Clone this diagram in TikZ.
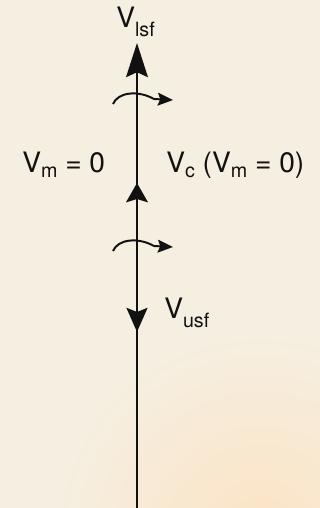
\documentclass[tikz,border=0pt]{standalone}
\usepackage{fontspec}
\setmainfont{TeX Gyre Heros}
\usetikzlibrary{arrows.meta}
\definecolor{Paper}{HTML}{F5EFE1}
\definecolor{PaperWarm}{HTML}{FCE3C4}
\definecolor{InkDark}{HTML}{111111}
\newcommand{\vsub}[2][4pt]{\raisebox{-#1}{\fontsize{14}{14}\selectfont #2}}

\begin{document}
\begin{tikzpicture}[
  x=0.025cm, y=-0.025cm,
  axis/.style={line width=2.1pt, draw=InkDark},
  spin/.style={line width=1.4pt, draw=InkDark, -{Stealth[length=3.8mm, width=3.2mm, inset=0.6mm]}},
  lab/.style={font=\fontsize{20}{24}\selectfont, text=InkDark, inner sep=0pt, anchor=base west},
]
% ---------------------------------------------------------------- background
\useasboundingbox (0,0) rectangle (320,508);
\fill[Paper] (0,0) rectangle (320,508);
\begin{scope}
  \clip (0,0) rectangle (320,508);
  \shade[inner color=PaperWarm, outer color=Paper] (260,540) circle (210);
\end{scope}
% ---------------------------------------------------------------- axis
\coordinate (bot) at (137,508);
\coordinate (top) at (137,43);
\coordinate (mid) at (137,183);
\coordinate (low) at (137,332);
\draw[axis, -{Stealth[length=8.5mm, width=5.4mm, inset=1.2mm]}] (bot) -- (top);
\draw[axis, -{Stealth[length=4.8mm, width=5.4mm, inset=0.8mm]}] (137,230) -- (mid);
\draw[axis, -{Stealth[length=6mm, width=5.2mm, inset=1mm]}] (137,280) -- (low);
% rotation arrows
\foreach \dy in {0,147} {
  \draw[spin] (113,104+\dy) .. controls (118,92+\dy) and (138,90+\dy) .. (154,99+\dy) -- (173,100+\dy);
}
% ---------------------------------------------------------------- labels
\node[lab] (lsf) at (116,27) {V\vsub[7pt]{lsf}};
\node[lab] (vm) at (22,172) {V\vsub{m} = 0};
\node[lab] (vc) at (166,172) {V\vsub{c} (V\vsub{m} = 0)};
\node[lab] (usf) at (164,318) {V\vsub[6.5pt]{usf}};
\end{tikzpicture}
\end{document}
